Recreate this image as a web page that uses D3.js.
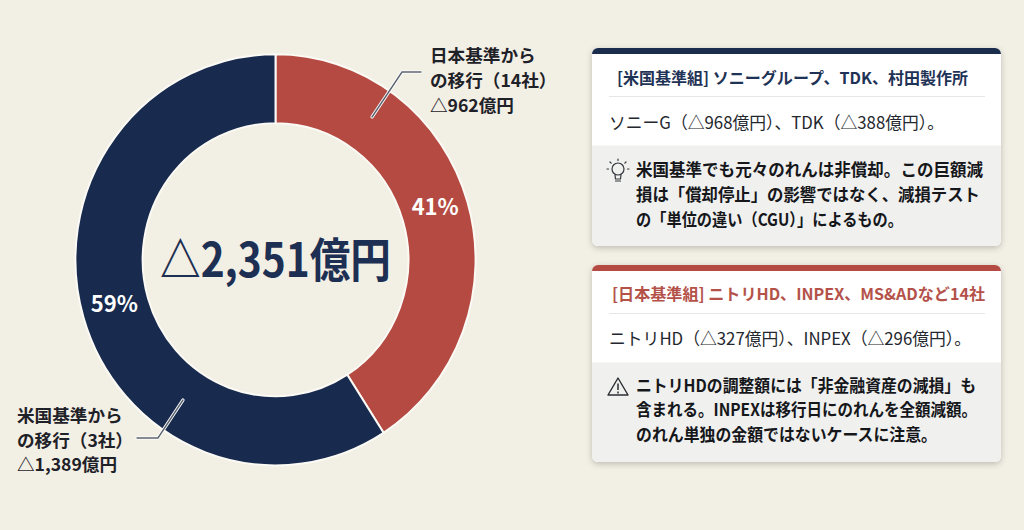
<!DOCTYPE html>
<html lang="ja"><head><meta charset="utf-8">
<script src="https://cdn.jsdelivr.net/npm/d3@7"></script>
<style>
html,body{margin:0;padding:0;background:#f2efe5;overflow:hidden}
svg{display:block}
text{font-family:"Noto Sans CJK JP","Noto Sans",sans-serif}
</style></head><body>
<svg id="c" width="1024" height="530"></svg>
<script>
const categories=["日本基準からの移行(14社)","米国基準からの移行(3社)"];
const values=[962,1389];
const percentLabels=["41%","59%"];
const colors=["#b44a41","#182b4e"];
const centerLabel="△2,351億円";
const calloutA=["日本基準から","の移行（14社）","△962億円"];
const calloutB=["米国基準から","の移行（3社）","△1,389億円"];
const cards=[
 {color:"#1b2d4d",head:"[米国基準組] ソニーグループ、TDK、村田製作所",headColor:"#1f3356",
  sub:"ソニーG（△968億円）、TDK（△388億円）。",
  note:["米国基準でも元々のれんは非償却。この巨額減","損は「償却停止」の影響ではなく、減損テスト","の「単位の違い（CGU）」によるもの。"]},
 {color:"#b44a41",head:"[日本基準組] ニトリHD、INPEX、MS&ADなど14社",headColor:"#b4524a",
  sub:"ニトリHD（△327億円）、INPEX（△296億円）。",
  note:["ニトリHDの調整額には「非金融資産の減損」も","含まれる。INPEXは移行日にのれんを全額減額。","のれん単独の金額ではないケースに注意。"]}
];
const svg=d3.select("#c");
const defs=svg.append("defs");
const f=defs.append("filter").attr("id","sh").attr("x","-5%").attr("y","-5%").attr("width","110%").attr("height","115%");
f.append("feDropShadow").attr("dx",0).attr("dy",2).attr("stdDeviation",3).attr("flood-color","#000").attr("flood-opacity",.22);

// donut
const pie=d3.pie().sort(null).value(d=>d);
const arcs=pie(values);
const cx=275.5,cy=259.8,R=202.5,r=134.5;
const arc=d3.arc().innerRadius(r).outerRadius(R);
const g=svg.append("g").attr("transform",`translate(${cx},${cy}) scale(0.988,1.015)`);
g.selectAll("path").data(arcs).join("path").attr("d",arc)
 .attr("fill",(d,i)=>colors[i]).attr("stroke","#fbfaf5").attr("stroke-width",2);
const lab=d3.arc().innerRadius(170).outerRadius(170);
g.selectAll("text").data(arcs).join("text")
 .attr("transform",(d,i)=>{const p=lab.centroid(d);return `translate(${p[0]+(i?0:-1.5)},${p[1]-4}) scale(1.012,0.985)`})
 .attr("text-anchor","middle").attr("dy","0.36em").attr("fill","#fff")
 .attr("font-size",22).attr("font-weight",700).text((d,i)=>percentLabels[i]);
svg.append("text").attr("transform",`translate(${cx},277) scale(1,1.15)`).attr("text-anchor","middle")
 .attr("fill","#1d2f52").attr("font-size",41).attr("font-weight",700).attr("textLength",231).attr("lengthAdjust","spacingAndGlyphs").text(centerLabel);

// callouts
function leader(pts){
 const l=d3.line();
 svg.append("path").attr("d",l(pts)).attr("fill","none").attr("stroke","#fff").attr("stroke-width",3.2).attr("stroke-linecap","round");
 svg.append("path").attr("d",l(pts)).attr("fill","none").attr("stroke","#5d6470").attr("stroke-width",1.4).attr("stroke-linecap","round");
}
leader([[372,117],[402,72],[421,72]]);
leader([[183,400],[158,438],[137,438]]);
function block(x,ys,lines,size,weight,fill){
 lines.forEach((t,i)=>svg.append("text").attr("x",x).attr("y",ys[i]).attr("font-size",size).attr("font-weight",weight).attr("fill",fill).text(t));
}
block(430,[62,87,112],calloutA,17.6,700,"#1e2127");
block(17,[422,447,471],calloutB,17.6,700,"#1e2127");

// cards
const tops=[48,265];
const headDy=[36,34.5],subDy=[80.5,80],noteDy=[[128,153,178],[127,151,176]];
const noteLen=[[347,344,267],[340,341,301]];
cards.forEach((c,i)=>{
 const x=592,w=409,h=i==0?198:197,y=tops[i];
 const gc=svg.append("g");
 const clipId="cl"+i;
 defs.append("clipPath").attr("id",clipId).append("rect").attr("x",x).attr("y",y).attr("width",w).attr("height",h).attr("rx",6);
 gc.append("rect").attr("x",x).attr("y",y).attr("width",w).attr("height",h).attr("rx",6).attr("fill","#fff").attr("filter","url(#sh)");
 const inner=gc.append("g").attr("clip-path",`url(#${clipId})`);
 inner.append("rect").attr("x",x).attr("y",y).attr("width",w).attr("height",6).attr("fill",c.color);
 inner.append("rect").attr("x",x).attr("y",y+97.5).attr("width",w).attr("height",h-97).attr("fill","#f0f0ee");
 inner.append("line").attr("x1",x+17).attr("x2",x+393).attr("y1",y+48.5).attr("y2",y+48.5).attr("stroke","#e6e6e6").attr("stroke-width",1);
 svg.append("text").attr("x",i==0?617:612).attr("y",y+headDy[i]).attr("font-size",16).attr("font-weight",700).attr("fill",c.headColor)
   .attr("textLength",i==0?351:373).attr("lengthAdjust","spacingAndGlyphs").text(c.head);
 svg.append("text").attr("x",609).attr("y",y+subDy[i]).attr("font-size",17).attr("font-weight",400).attr("fill","#24272d")
   .attr("textLength",i==0?335:362).attr("lengthAdjust","spacingAndGlyphs").text(c.sub);
 c.note.forEach((t,j)=>svg.append("text").attr("x",636).attr("y",y+noteDy[i][j]).attr("font-size",17).attr("font-weight",700).attr("fill","#15171b")
   .attr("textLength",noteLen[i][j]).attr("lengthAdjust","spacingAndGlyphs").text(t));
});
// icons
const bulb=svg.append("g").attr("transform","translate(618,170)").attr("fill","none").attr("stroke","#33373d").attr("stroke-width",1.2).attr("stroke-linecap","round");
bulb.append("circle").attr("cy",-1).attr("r",6);
bulb.append("path").attr("d","M-3 5L-2.5 9H2.5L3 5M-2.5 11H2.5");
bulb.append("path").attr("d","M0-11V-9.5M-8-8L-6.8-6.8M8-8L6.8-6.8M-11-1H-9.5M11-1H9.5");
const warn=svg.append("g").attr("transform","translate(618,387)");
warn.append("path").attr("d","M0-9L10 8H-10Z").attr("fill","none").attr("stroke","#2a2d33").attr("stroke-width",1.4).attr("stroke-linejoin","round");
warn.append("path").attr("d","M0-3.5V3M0 4.6V6.4").attr("stroke","#2a2d33").attr("stroke-width",1.5);
</script></body></html>
